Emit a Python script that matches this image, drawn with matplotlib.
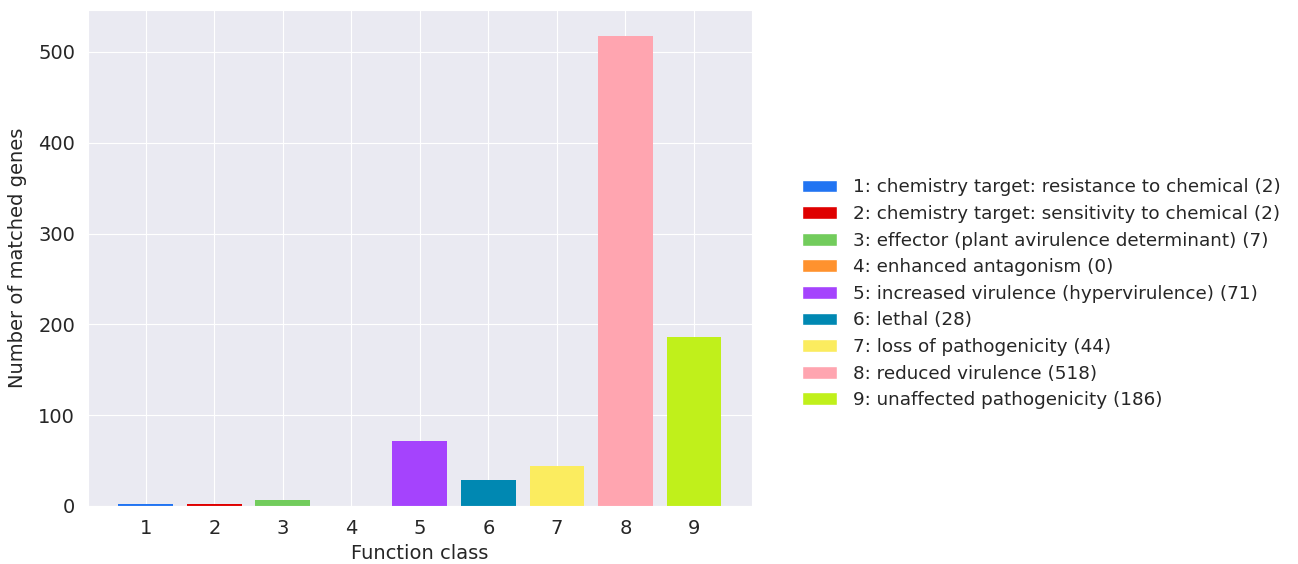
import matplotlib
matplotlib.use("Agg")
import seaborn as sns
from matplotlib import pyplot as plt
from matplotlib.patches import Patch

# function classes and matched gene counts
classes = [1, 2, 3, 4, 5, 6, 7, 8, 9]
counts = [2, 2, 7, 0, 71, 28, 44, 518, 186]
names = [
    "chemistry target: resistance to chemical",
    "chemistry target: sensitivity to chemical",
    "effector (plant avirulence determinant)",
    "enhanced antagonism",
    "increased virulence (hypervirulence)",
    "lethal",
    "loss of pathogenicity",
    "reduced virulence",
    "unaffected pathogenicity",
]
colors = ["#2174f2", "#df0000", "#72cc5c", "#ff922e", "#a543fd",
          "#0088b2", "#fbec5f", "#ffa5b0", "#c0f01b"]

sns.set_style("darkgrid")
plt.rcParams['font.family'] = ['DejaVu Sans']

fig = plt.figure(figsize=(12.98, 5.64), dpi=100)
ax = fig.add_axes([0.068, 0.103, 0.511, 0.879])
ax.bar(classes, counts, width=0.8, color=colors, edgecolor="none")
ax.set_xticks(classes)
ax.set_ylim(0, 546)
ax.tick_params(labelsize=14, pad=6)
ax.set_xlabel("Function class", fontsize=14, labelpad=4)
ax.set_ylabel("Number of matched genes", fontsize=14, labelpad=8)

handles = [Patch(facecolor=c, edgecolor="white") for c in colors]
labels = [f"{k}: {n} ({v})" for k, n, v in zip(classes, names, counts)]
fig.legend(handles, labels, loc="center left", bbox_to_anchor=(0.605, 0.479),
           frameon=False, fontsize=13.2, handlelength=1.9, handletextpad=0.9,
           labelspacing=0.47)

fig.savefig("out.png", dpi=100)
